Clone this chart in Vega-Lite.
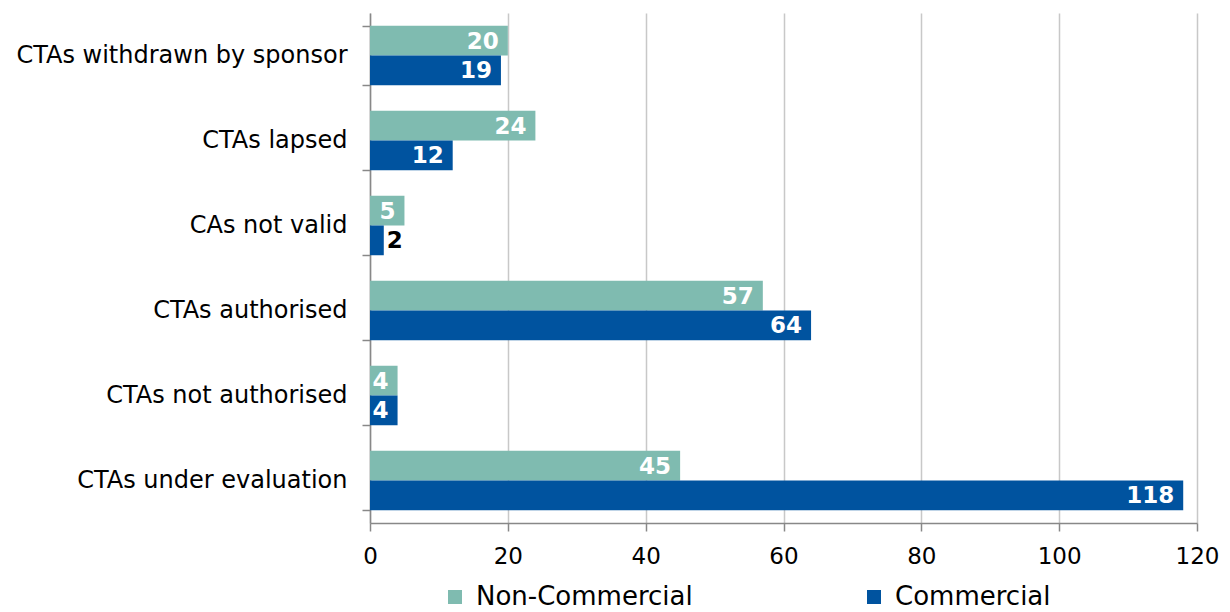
{
  "$schema": "https://vega.github.io/schema/vega-lite/v6.json",
  "width": 827,
  "height": 510,
  "autosize": {"type": "none"},
  "padding": {"left": 370, "top": 13, "right": 33, "bottom": 89},
  "background": "white",
  "config": {
    "font": "DejaVu Sans",
    "view": {"stroke": null}
  },
  "data": {
    "values": [
      {"category": "CTAs withdrawn by sponsor", "series": "Non-Commercial", "value": 20},
      {"category": "CTAs withdrawn by sponsor", "series": "Commercial", "value": 19},
      {"category": "CTAs lapsed", "series": "Non-Commercial", "value": 24},
      {"category": "CTAs lapsed", "series": "Commercial", "value": 12},
      {"category": "CAs not valid", "series": "Non-Commercial", "value": 5},
      {"category": "CAs not valid", "series": "Commercial", "value": 2},
      {"category": "CTAs authorised", "series": "Non-Commercial", "value": 57},
      {"category": "CTAs authorised", "series": "Commercial", "value": 64},
      {"category": "CTAs not authorised", "series": "Non-Commercial", "value": 4},
      {"category": "CTAs not authorised", "series": "Commercial", "value": 4},
      {"category": "CTAs under evaluation", "series": "Non-Commercial", "value": 45},
      {"category": "CTAs under evaluation", "series": "Commercial", "value": 118}
    ]
  },
  "encoding": {
    "y": {
      "field": "category",
      "type": "nominal",
      "sort": null,
      "scale": {"paddingInner": 0.3, "paddingOuter": 0.15},
      "axis": {
        "title": null,
        "labelFontSize": 24,
        "labelColor": "#000000",
        "labelLimit": 0,
        "labelPadding": 15,
        "tickBand": "extent",
        "tickSize": 8,
        "tickColor": "#888888",
        "tickWidth": 1.5,
        "domainColor": "#888888",
        "domainWidth": 1.5,
        "grid": false
      }
    },
    "yOffset": {
      "field": "series",
      "type": "nominal",
      "sort": ["Non-Commercial", "Commercial"],
      "scale": {"paddingInner": 0, "paddingOuter": 0}
    },
    "x": {
      "field": "value",
      "type": "quantitative",
      "scale": {"domain": [0, 120], "nice": false},
      "axis": {
        "title": null,
        "values": [0, 20, 40, 60, 80, 100, 120],
        "labelFontSize": 23,
        "labelColor": "#000000",
        "labelFlush": false,
        "labelPadding": 14,
        "ticks": true,
        "tickSize": 8,
        "tickColor": "#888888",
        "tickWidth": 1.5,
        "domain": true,
        "domainColor": "#888888",
        "domainWidth": 1.5,
        "grid": true,
        "gridColor": "#c8c8c8",
        "gridWidth": 1.5
      }
    }
  },
  "layer": [
    {
      "mark": {"type": "bar"},
      "encoding": {
        "color": {
          "field": "series",
          "type": "nominal",
          "scale": {"domain": ["Non-Commercial", "Commercial"], "range": ["#7fbbb0", "#00539f"]},
          "legend": {
            "title": null,
            "orient": "none",
            "direction": "horizontal",
            "legendX": 72,
            "legendY": 571,
            "symbolType": "square",
            "symbolSize": 196,
            "symbolStrokeWidth": 0,
            "labelFontSize": 26,
            "labelLimit": 0,
            "labelColor": "#000000",
            "labelOffset": 8,
            "columnPadding": 168
          }
        }
      }
    },
    {
      "transform": [{"filter": "datum.value >= 3"}],
      "mark": {"type": "text", "align": "right", "baseline": "middle", "dx": -9, "dy": 1, "fontWeight": "bold", "fontSize": 23, "color": "white"},
      "encoding": {"text": {"field": "value", "type": "quantitative"}}
    },
    {
      "transform": [{"filter": "datum.value < 3"}],
      "mark": {"type": "text", "align": "left", "baseline": "middle", "dx": 3, "dy": 1, "fontWeight": "bold", "fontSize": 23, "color": "black"},
      "encoding": {"text": {"field": "value", "type": "quantitative"}}
    }
  ]
}
